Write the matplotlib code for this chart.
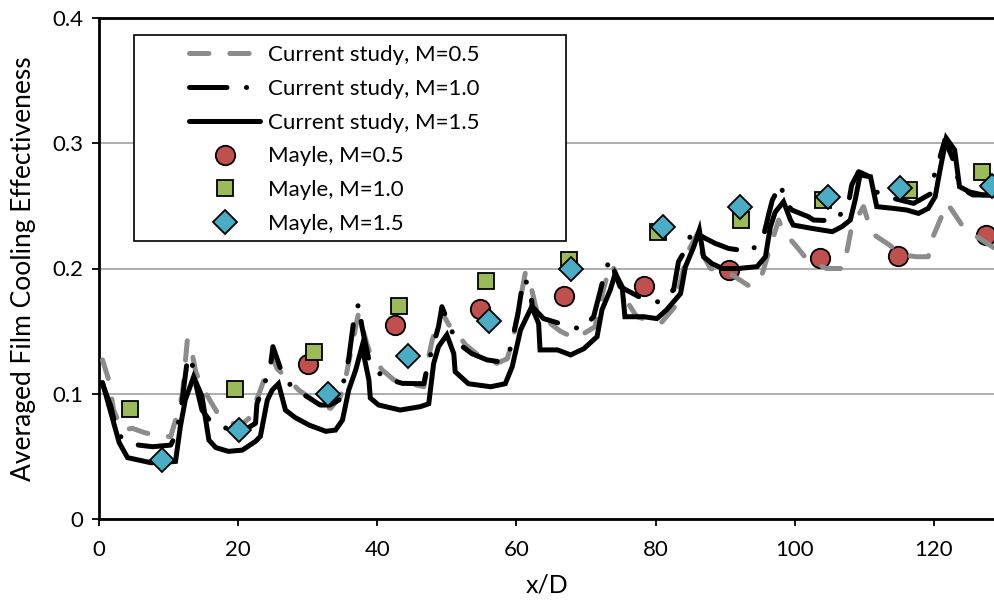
import matplotlib
matplotlib.use("Agg")
import matplotlib.pyplot as plt
from matplotlib.patches import Rectangle

plt.rcParams['font.family'] = ['Lato', 'DejaVu Sans']
plt.rcParams['lines.scale_dashes'] = False

# Current study, M=0.5
x_m05 = [0.5, 1.4, 2.1, 3.3, 4.8, 6.5, 8.1, 10.3, 11.3, 12.0, 12.7, 13.0, 13.9, 14.8,
         17.2, 20.1, 21.5, 23.0, 24.4, 25.0, 25.6, 27.3, 28.7, 32.1, 33.3, 34.7, 35.4,
         36.9, 37.3, 38.5, 39.0, 40.7, 42.4, 46.7, 47.4, 47.9, 49.3, 50.3, 51.5, 52.7,
         54.8, 57.2, 58.7, 59.6, 60.1, 61.3, 61.8, 63.0, 66.3, 68.5, 71.3, 72.5, 73.5,
         74.0, 76.1, 77.3, 80.7, 82.8, 84.5, 86.2, 86.7, 87.9, 90.7, 93.6, 95.3, 96.5,
         97.7, 98.4, 100.3, 101.8, 104.6, 107.0, 107.5, 108.2, 109.9, 111.1, 113.3,
         115.6, 117.5, 119.2, 119.9, 121.9, 122.6, 124.2, 126.2, 128.8]
y_m05 = [0.127, 0.111, 0.087, 0.071, 0.0724, 0.069, 0.067, 0.0657, 0.0844, 0.100, 0.143,
         0.143, 0.1176, 0.1056, 0.083, 0.0737, 0.080, 0.100, 0.1216, 0.128, 0.120, 0.111,
         0.103, 0.0897, 0.0884, 0.0977, 0.111, 0.1535, 0.164, 0.140, 0.132, 0.119, 0.111,
         0.1056, 0.1296, 0.143, 0.165, 0.155, 0.148, 0.139, 0.1296, 0.1243, 0.128, 0.1456,
         0.1615, 0.197, 0.193, 0.164, 0.150, 0.144, 0.1535, 0.183, 0.203, 0.200, 0.172,
         0.1615, 0.156, 0.1695, 0.212, 0.2294, 0.212, 0.200, 0.196, 0.1855, 0.195, 0.2174,
         0.2387, 0.2294, 0.2174, 0.207, 0.200, 0.200, 0.2134, 0.2334, 0.2494, 0.228, 0.220,
         0.2108, 0.2094, 0.2094, 0.2254, 0.252, 0.2467, 0.2334, 0.2254, 0.216]

# Current study, M=1.0
x_m10 = [0.5, 1.7, 2.6, 4.0, 5.7, 7.7, 10.3, 10.8, 11.7, 12.2, 12.7, 13.2, 13.9, 14.8,
         16.0, 17.2, 18.5, 19.9, 21.5, 22.5, 22.7, 23.8, 24.7, 25.0, 26.1, 27.5, 29.9,
         31.8, 33.2, 34.5, 35.3, 35.9, 36.6, 37.3, 37.8, 38.8, 40.8, 43.6, 46.7, 47.2,
         48.0, 48.8, 49.3, 50.3, 51.5, 53.6, 55.8, 57.5, 58.9, 59.6, 60.2, 61.0, 61.9,
         62.3, 63.9, 66.3, 69.4, 71.1, 72.1, 72.5, 73.4, 74.2, 74.9, 77.6, 80.6, 82.6,
         83.3, 84.3, 85.1, 86.3, 86.7, 88.6, 90.5, 93.7, 95.5, 96.3, 96.8, 98.0, 98.6,
         99.6, 102.0, 102.7, 105.8, 107.7, 108.2, 108.7, 109.2, 110.5, 111.8, 114.2,
         117.1, 119.5, 120.2, 120.9, 121.6, 123.0, 123.7, 125.6, 128.8]
y_m10 = [0.108, 0.090, 0.068, 0.062, 0.059, 0.0577, 0.059, 0.0644, 0.083, 0.1056, 0.127,
         0.1296, 0.108, 0.087, 0.078, 0.075, 0.072, 0.0697, 0.073, 0.0764, 0.092, 0.108,
         0.1245, 0.1376, 0.120, 0.107, 0.0977, 0.091, 0.091, 0.095, 0.1128, 0.128, 0.1575,
         0.1717, 0.1535, 0.127, 0.113, 0.1083, 0.108, 0.1216, 0.1376, 0.1535, 0.1695,
         0.155, 0.1408, 0.132, 0.127, 0.1256, 0.131, 0.148, 0.163, 0.192, 0.186, 0.1695,
         0.160, 0.156, 0.1514, 0.1615, 0.183, 0.192, 0.2076, 0.196, 0.1855, 0.1775, 0.173,
         0.183, 0.2054, 0.215, 0.2275, 0.2307, 0.2254, 0.220, 0.216, 0.2134, 0.2254, 0.244,
         0.2547, 0.2674, 0.2533, 0.2467, 0.2413, 0.2387, 0.238, 0.2507, 0.2667, 0.272,
         0.2773, 0.274, 0.261, 0.256, 0.252, 0.2595, 0.2773, 0.289, 0.3026, 0.284, 0.265,
         0.2587, 0.2587]

# Current study, M=1.5
x_m15 = [0.5, 2.9, 4.1, 7.4, 9.1, 11.0, 11.7, 12.4, 13.6, 14.8, 15.8, 16.8, 18.6, 20.6,
         22.5, 23.2, 24.2, 24.9, 25.8, 26.8, 28.2, 30.2, 32.6, 34.0, 35.0, 35.9, 36.9,
         37.8, 38.8, 39.0, 40.2, 43.3, 46.2, 47.4, 48.1, 48.8, 50.0, 51.0, 51.2, 53.1,
         56.3, 58.4, 59.4, 60.6, 62.2, 63.2, 63.4, 65.9, 67.8, 69.7, 71.6, 72.3, 73.5,
         74.2, 75.2, 75.6, 78.3, 80.2, 81.6, 83.6, 84.3, 85.5, 86.3, 86.9, 88.1, 89.6,
         91.9, 94.6, 95.8, 96.5, 97.2, 98.4, 99.4, 99.8, 102.5, 105.4, 106.8, 108.0,
         108.7, 109.4, 110.9, 111.8, 114.2, 116.1, 117.8, 119.2, 120.2, 120.9, 121.8,
         123.0, 123.7, 125.2, 127.1, 128.8]
y_m15 = [0.109, 0.061, 0.049, 0.045, 0.045, 0.046, 0.074, 0.095, 0.1136, 0.098, 0.063,
         0.057, 0.054, 0.055, 0.062, 0.066, 0.095, 0.103, 0.108, 0.087, 0.081, 0.075,
         0.070, 0.071, 0.079, 0.103, 0.119, 0.1376, 0.111, 0.0966, 0.091, 0.087, 0.0897,
         0.092, 0.124, 0.1376, 0.147, 0.132, 0.1176, 0.108, 0.1056, 0.108, 0.1216, 0.151,
         0.1695, 0.156, 0.135, 0.135, 0.131, 0.136, 0.1456, 0.167, 0.183, 0.196, 0.1855,
         0.1615, 0.1615, 0.160, 0.167, 0.180, 0.2015, 0.2174, 0.2307, 0.2094, 0.204, 0.200,
         0.200, 0.2015, 0.2094, 0.233, 0.245, 0.2533, 0.2387, 0.2347, 0.232, 0.2294,
         0.2334, 0.2387, 0.2547, 0.2746, 0.2733, 0.2494, 0.248, 0.2467, 0.244, 0.248,
         0.2573, 0.2787, 0.304, 0.2946, 0.2653, 0.261, 0.2587, 0.2587]

# Mayle measurements
mayle_x05 = [30.1, 42.5, 54.7, 66.8, 78.4, 90.6, 103.6, 114.9, 127.5]
mayle_y05 = [0.124, 0.155, 0.168, 0.178, 0.186, 0.199, 0.208, 0.210, 0.227]
mayle_x10 = [4.5, 19.5, 30.9, 43.1, 55.7, 67.5, 80.4, 92.3, 104.1, 116.5, 127.0]
mayle_y10 = [0.088, 0.104, 0.133, 0.170, 0.190, 0.207, 0.229, 0.239, 0.255, 0.263, 0.277]
mayle_x15 = [9.1, 20.1, 32.9, 44.4, 56.1, 67.8, 81.1, 92.2, 104.8, 115.1, 128.3]
mayle_y15 = [0.047, 0.071, 0.100, 0.130, 0.158, 0.200, 0.233, 0.249, 0.257, 0.264, 0.266]

x_ticks = [0, 20, 40, 60, 80, 100, 120]
y_ticks = [0, 0.1, 0.2, 0.3, 0.4]
y_tick_labels = ['0', '0.1', '0.2', '0.3', '0.4']

W, H = 995, 605
fig = plt.figure(figsize=(W / 100, H / 100), dpi=100)
ax = fig.add_axes([99 / W, (H - 519) / H, (W - 99) / W, (519 - 18) / H])

lw = 3.6
ax.plot(mayle_x05, mayle_y05, linestyle='none', marker='o', ms=14, mfc='#C0504D',
        mec='black', mew=1.3, zorder=2, label='Mayle, M=0.5')
ax.plot(x_m05, y_m05, color='#8c8c8c', lw=lw, dashes=(14, 15),
        dash_capstyle='round', zorder=3, label='Current study, M=0.5')
ax.plot(x_m10, y_m10, color='black', lw=lw, dashes=(27, 14, 0.1, 14),
        dash_capstyle='round', zorder=4, label='Current study, M=1.0')
ax.plot(x_m15, y_m15, color='black', lw=lw, solid_capstyle='round',
        solid_joinstyle='miter', zorder=5, label='Current study, M=1.5')
ax.plot(mayle_x10, mayle_y10, linestyle='none', marker='s', ms=12, mfc='#9BBB59',
        mec='black', mew=1.3, zorder=6, label='Mayle, M=1.0')
ax.plot(mayle_x15, mayle_y15, linestyle='none', marker='D', ms=12, mfc='#4BACC6',
        mec='black', mew=1.3, zorder=7, label='Mayle, M=1.5')

ax.set_xlim(0, 128.8)
ax.set_ylim(0, 0.4)
ax.set_xticks(x_ticks)
ax.set_yticks(y_ticks)
ax.set_yticklabels(y_tick_labels)
ax.tick_params(axis='both', direction='out', length=5, width=1.3, labelsize=16,
               colors='black', pad=6)
ax.tick_params(axis='x', pad=10)
ax.yaxis.grid(True, color='#a0a0a0', lw=1.2)
ax.set_axisbelow(True)
for side in ('left', 'bottom', 'top'):
    ax.spines[side].set_linewidth(2)
    ax.spines[side].set_color('black')
ax.spines['right'].set_visible(False)

ax.set_xlabel('x/D', fontsize=18, labelpad=10)
ax.set_ylabel('Averaged Film Cooling Effectiveness', fontsize=19, labelpad=12)

# Legend frame and entries
frame = Rectangle((134 / W, (H - 241) / H), (566 - 134) / W, (241 - 35) / H,
                  transform=fig.transFigure, facecolor='white', edgecolor='black',
                  lw=1.2, zorder=9, clip_on=False)
ax.add_patch(frame)
handles, labels = ax.get_legend_handles_labels()
order = ['Current study, M=0.5', 'Current study, M=1.0', 'Current study, M=1.5',
         'Mayle, M=0.5', 'Mayle, M=1.0', 'Mayle, M=1.5']
hmap = dict(zip(labels, handles))
leg = ax.legend([hmap[k] for k in order], order, loc='upper left',
                bbox_to_anchor=(189 / W, (H - 45) / H), bbox_transform=fig.transFigure,
                frameon=False, fontsize=16, handlelength=3.2, handletextpad=0.35,
                labelspacing=0.62, borderpad=0, borderaxespad=0)
leg.set_zorder(10)

fig.savefig('out.png', dpi=100)
